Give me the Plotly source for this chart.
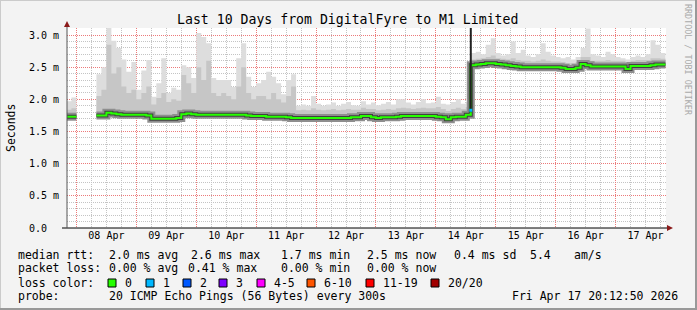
import plotly.graph_objects as go
from datetime import datetime, timedelta

# ---------------- data ----------------
title_text = "Last 10 Days from DigitalFyre to M1 Limited"
bin_start = datetime(2026, 4, 7, 20, 0)
bin_hours = 2
range_start = datetime(2026, 4, 7, 20, 12, 50)
range_end = datetime(2026, 4, 17, 20, 12, 50)

# median RTT (ms) per 2-hour bin, None = no data
median_ms = [
    1.73, 1.73, None, None, None, None, 1.75, 1.75, 1.79, 1.78,
    1.77, 1.76, 1.76, 1.76, 1.76, 1.76, 1.75, 1.70, 1.70, 1.70,
    1.70, 1.70, 1.71, 1.77, 1.78, 1.77, 1.76, 1.76, 1.76, 1.76,
    1.76, 1.76, 1.76, 1.76, 1.76, 1.76, 1.75, 1.74, 1.74, 1.74,
    1.73, 1.73, 1.73, 1.73, 1.72, 1.71, 1.71, 1.71, 1.71, 1.71,
    1.71, 1.71, 1.71, 1.71, 1.71, 1.71, 1.71, 1.72, 1.72, 1.74,
    1.74, 1.72, 1.71, 1.72, 1.72, 1.72, 1.73, 1.74, 1.74, 1.74,
    1.74, 1.74, 1.74, 1.74, 1.73, 1.72, 1.69, 1.72, 1.73, 1.73,
    1.76, 2.53, 2.54, 2.55, 2.56, 2.56, 2.55, 2.54, 2.53, 2.52,
    2.51, 2.50, 2.50, 2.50, 2.50, 2.50, 2.50, 2.50, 2.50, 2.49,
    2.47, 2.47, 2.49, 2.55, 2.53, 2.51, 2.51, 2.51, 2.51, 2.51,
    2.51, 2.51, 2.47, 2.52, 2.52, 2.52, 2.52, 2.53, 2.54, 2.54,
]
# top of the light smoke (max of pings)
smoke_max_ms = [
    1.97, 2.03, None, None, None, None, 2.39, 2.50, 3.11, 2.91,
    2.80, 2.62, 2.43, 2.58, 2.15, 2.45, 2.61, 2.04, 2.25, 2.64,
    2.10, 2.18, 2.15, 2.53, 2.50, 2.33, 3.03, 2.97, 2.87, 2.33,
    2.30, 2.30, 2.30, 2.19, 2.64, 2.87, 2.35, 2.19, 2.25, 2.30,
    2.43, 2.35, 2.25, 2.08, 2.30, 2.39, 1.90, 1.92, 1.90, 2.05,
    1.93, 1.90, 1.92, 1.95, 1.90, 1.93, 1.96, 1.91, 1.90, 1.97,
    1.92, 1.95, 1.91, 1.93, 1.96, 1.92, 2.00, 2.00, 1.95, 1.92,
    1.96, 2.00, 1.94, 1.95, 2.04, 1.93, 1.92, 1.96, 2.00, 1.93,
    1.96, 2.72, 2.74, 2.70, 2.85, 2.95, 2.72, 2.68, 2.70, 2.90,
    2.72, 2.77, 2.68, 2.66, 2.70, 2.87, 2.74, 2.68, 2.66, 2.64,
    2.66, 2.62, 2.66, 2.80, 3.10, 2.70, 2.68, 2.66, 2.74, 2.70,
    2.66, 2.64, 2.62, 2.66, 2.68, 2.66, 2.70, 2.92, 2.85, 2.72,
]
# top of the denser (medium) smoke
smoke_mid_ms = [
    1.84, 1.86, None, None, None, None, 2.05, 2.15, 2.85, 2.40,
    2.50, 2.20, 2.10, 2.15, 2.00, 2.10, 2.20, 1.92, 2.02, 2.10,
    1.96, 2.00, 1.98, 2.38, 2.25, 2.10, 2.50, 2.30, 2.60, 2.10,
    2.05, 2.10, 2.05, 2.00, 2.20, 2.50, 2.10, 2.00, 2.05, 2.05,
    2.00, 2.10, 2.00, 1.95, 2.05, 2.20, 1.83, 1.84, 1.83, 1.86,
    1.84, 1.83, 1.84, 1.85, 1.83, 1.84, 1.85, 1.84, 1.84, 1.87,
    1.85, 1.85, 1.83, 1.84, 1.85, 1.84, 1.86, 1.87, 1.86, 1.85,
    1.86, 1.87, 1.86, 1.86, 1.88, 1.85, 1.82, 1.85, 1.87, 1.85,
    1.88, 2.62, 2.63, 2.64, 2.66, 2.68, 2.64, 2.63, 2.62, 2.64,
    2.61, 2.60, 2.60, 2.59, 2.60, 2.62, 2.60, 2.59, 2.59, 2.58,
    2.56, 2.56, 2.58, 2.66, 2.66, 2.60, 2.60, 2.60, 2.61, 2.60,
    2.60, 2.60, 2.56, 2.60, 2.61, 2.61, 2.61, 2.64, 2.64, 2.63,
]

spike_time = datetime(2026, 4, 14, 14, 0)
spike_from_ms = 1.80
spike_to_ms = 3.40
loss1_time = datetime(2026, 4, 14, 14, 0)
loss1_ms = 1.83

ytick_vals = [0.0, 0.5, 1.0, 1.5, 2.0, 2.5, 3.0]
ytick_text = ["0.0\u00a0\u00a0", "0.5 m", "1.0 m", "1.5 m", "2.0 m", "2.5 m", "3.0 m"]
y_title = "Seconds"

rtt_items = ["median rtt:", "2.0 ms avg", "2.6 ms max", "1.7 ms min", "2.5 ms now", "0.4 ms sd", "5.4", "am/s"]
loss_items = ["packet loss:", "0.00 % avg", "0.41 % max", "0.00 % min", "0.00 % now"]
loss_color_title = "loss color:"
loss_labels = ["0", "1", "2", "3", "4-5", "6-10", "11-19", "20/20"]
loss_colors = ["#26ff00", "#00b8ff", "#0059ff", "#7e00ff", "#ff00ff", "#ff5500", "#ff0000", "#a10000"]
probe_title = "probe:"
probe_text = "20 ICMP Echo Pings (56 Bytes) every 300s"
stamp_text = "Fri Apr 17 20:12:50 2026"
watermark = "RRDTOOL / TOBI OETIKER"

# ---------------- layout helpers (pixels -> paper) ----------------
W, H = 697, 310
PL, PR, PT, PB = 67, 666, 28, 228
def px(x):
    return (x - PL) / (PR - PL)
def py(y):
    return (PB - y) / (PB - PT)

MONO = "DejaVu Sans Mono"

times = [bin_start + timedelta(hours=bin_hours * i) for i in range(len(median_ms) + 1)]

segments, cur = [], []
for i, v in enumerate(median_ms):
    if v is None:
        if cur:
            segments.append(cur)
            cur = []
    else:
        cur.append(i)
if cur:
    segments.append(cur)

def seg_xy(arr, seg):
    xs = [times[i] for i in seg] + [times[seg[-1] + 1]]
    ys = [arr[i] for i in seg] + [arr[seg[-1]]]
    return xs, ys

fig = go.Figure()
# smoke fills
for seg in segments:
    xm, ym = seg_xy(median_ms, seg)
    xh, yh = seg_xy(smoke_max_ms, seg)
    xd, yd = seg_xy(smoke_mid_ms, seg)
    fig.add_trace(go.Scatter(x=xm, y=ym, mode="lines", line=dict(width=0, shape="hv"), hoverinfo="skip"))
    fig.add_trace(go.Scatter(x=xh, y=yh, mode="lines", line=dict(width=0, shape="hv"),
                             fill="tonexty", fillcolor="#dddddd", hoverinfo="skip"))
    fig.add_trace(go.Scatter(x=xm, y=ym, mode="lines", line=dict(width=0, shape="hv"), hoverinfo="skip"))
    fig.add_trace(go.Scatter(x=xd, y=yd, mode="lines", line=dict(width=0, shape="hv"),
                             fill="tonexty", fillcolor="#c6c6c6", hoverinfo="skip"))
# dense smoke around median + median line
for width, color in [(8, "#8e8e8e"), (4, "#404040"), (2, "#26ff00")]:
    for seg in segments:
        xm, ym = seg_xy(median_ms, seg)
        fig.add_trace(go.Scatter(x=xm, y=ym, mode="lines",
                                 line=dict(width=width, color=color, shape="hv"), hoverinfo="skip"))
# spike at the level change
fig.add_trace(go.Scatter(x=[spike_time, spike_time], y=[spike_from_ms, spike_to_ms], mode="lines",
                         line=dict(color="#222222", width=2), hoverinfo="skip"))
fig.add_trace(go.Scatter(x=[loss1_time], y=[loss1_ms], mode="markers",
                         marker=dict(symbol="square", size=3, color="#00b8ff", line=dict(width=0)),
                         hoverinfo="skip"))

red_grid = "#ec7a7a"
gray_grid = "#c4c4c4"

# minor grid positions, skipping the major (red) lines
grid_day0 = datetime(2026, 4, 7)
x_minor = [grid_day0 + timedelta(hours=6 * k) for k in range(0, 46) if k % 4 != 0]
y_minor = [round(0.1 * k, 1) for k in range(0, 32) if k % 5 != 0]

fig.update_layout(
    width=W, height=H,
    margin=dict(l=PL, r=W - PR, t=PT, b=H - PB, pad=0),
    paper_bgcolor="#f3f3f3", plot_bgcolor="#ffffff",
    showlegend=False,
    font=dict(family=MONO, size=10, color="#000000"),
    xaxis=dict(
        type="date", range=[range_start, range_end],
        tick0="2026-04-08", dtick=86400000, ticklabelmode="period", tickformat="%d %b",
        showgrid=True, gridcolor=red_grid, griddash="1px,1px", gridwidth=1,
        minor=dict(tickmode="array", tickvals=x_minor, showgrid=True,
                   gridcolor=gray_grid, griddash="1px,1px", gridwidth=1),
        showline=False, zeroline=False, ticks="",
        tickfont=dict(family=MONO, size=10, color="#000000"),
    ),
    yaxis=dict(
        range=[0, 200 / 64.33], tickmode="array", tickvals=ytick_vals, ticktext=ytick_text,
        showgrid=True, gridcolor=red_grid, griddash="1px,1px", gridwidth=1,
        minor=dict(tickmode="array", tickvals=y_minor, showgrid=True,
                   gridcolor=gray_grid, griddash="1px,1px", gridwidth=1),
        showline=False, zeroline=False, ticks="", ticklabelstandoff=7,
        tickfont=dict(family=MONO, size=10, color="#000000"),
    ),
)

shapes = []
# axes with arrows
shapes.append(dict(type="line", xref="paper", yref="paper", x0=px(62), x1=px(669), y0=py(228), y1=py(228),
                   line=dict(color="#000000", width=1)))
shapes.append(dict(type="line", xref="paper", yref="paper", x0=px(67), x1=px(67), y0=py(228), y1=py(24),
                   line=dict(color="#555555", width=1)))
shapes.append(dict(type="path", xref="paper", yref="paper",
                   path=f"M {px(667)} {py(225)} L {px(673)} {py(228)} L {px(667)} {py(231)} Z",
                   fillcolor="#8b1a1a", line=dict(width=0)))
shapes.append(dict(type="path", xref="paper", yref="paper",
                   path=f"M {px(64)} {py(27)} L {px(67)} {py(21)} L {px(70)} {py(27)} Z",
                   fillcolor="#8b1a1a", line=dict(width=0)))
# frame
shapes.append(dict(type="line", xref="paper", yref="paper", x0=px(0), x1=px(697), y0=py(0.5), y1=py(0.5),
                   line=dict(color="#cbcbcb", width=1)))
shapes.append(dict(type="line", xref="paper", yref="paper", x0=px(0.5), x1=px(0.5), y0=py(0), y1=py(310),
                   line=dict(color="#cbcbcb", width=1)))
shapes.append(dict(type="line", xref="paper", yref="paper", x0=px(0), x1=px(697), y0=py(309), y1=py(309),
                   line=dict(color="#999999", width=2)))
shapes.append(dict(type="line", xref="paper", yref="paper", x0=px(696), x1=px(696), y0=py(0), y1=py(310),
                   line=dict(color="#999999", width=2)))

annotations = []
def text(x, y, s, size=11.5, anchor="left", color="#000000", angle=0):
    annotations.append(dict(xref="paper", yref="paper", x=px(x), y=py(y), text=s, showarrow=False,
                            xanchor=anchor, yanchor="middle", textangle=angle,
                            font=dict(family=MONO, size=size, color=color)))

text(347.5, 19, title_text, size=13.2, anchor="center")
text(11, 128, y_title, size=11.5, anchor="center", angle=-90)
text(688, 60, watermark, size=8.4, anchor="center", color="#aaaaaa", angle=90)

rtt_x = [16, 107, 189, 279, 365, 452, 528, 572]
for xx, s in zip(rtt_x, rtt_items):
    text(xx, 255, s)
loss_x = [16, 107, 186, 279, 365]
for xx, s in zip(loss_x, loss_items):
    text(xx, 268, s)
text(16, 283, loss_color_title)
sq_x = [108, 146, 183, 219, 257, 307, 366, 431]
for xx, lab, col in zip(sq_x, loss_labels, loss_colors):
    shapes.append(dict(type="rect", xref="paper", yref="paper", x0=px(xx), x1=px(xx + 8),
                       y0=py(287), y1=py(279), fillcolor=col, line=dict(color="#000000", width=1)))
    text(xx + 15, 283, lab)
text(16, 296, probe_title)
text(107, 296, probe_text)
text(680, 296, stamp_text, anchor="right")

fig.update_layout(shapes=shapes, annotations=annotations)
fig.write_html("out.html")
